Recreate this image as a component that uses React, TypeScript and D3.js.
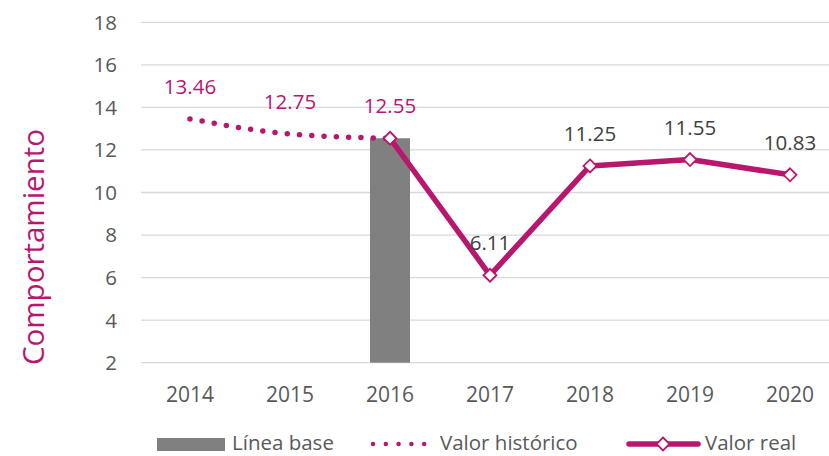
import React from "react";
import * as d3 from "d3";

const years = ["2014", "2015", "2016", "2017", "2018", "2019", "2020"];
const baseYears = ["2016"];
const baseValues = [12.55];
const histYears = ["2014", "2015", "2016"];
const histValues = [13.46, 12.75, 12.55];
const realYears = ["2016", "2017", "2018", "2019", "2020"];
const realValues = [12.55, 6.11, 11.25, 11.55, 10.83];
const yTicks = [2, 4, 6, 8, 10, 12, 14, 16, 18];

const W = 829;
const H = 456;
const MAG = "#B8176E";
const FONT = "'Open Sans', sans-serif";

export default function App() {
  const x = d3.scalePoint<string>().domain(years).range([190, 790]);
  const y = d3.scaleLinear().domain([2, 18]).range([362.7, 22.3]);

  const histLine = d3
    .line<number>()
    .x((_, i) => x(histYears[i]) as number)
    .y((d) => y(d))
    .curve(d3.curveMonotoneX);
  const realLine = d3
    .line<number>()
    .x((_, i) => x(realYears[i]) as number)
    .y((d) => y(d));

  const diamond = (cx: number, cy: number, r: number) =>
    `M${cx},${cy - r}L${cx + r},${cy}L${cx},${cy + r}L${cx - r},${cy}Z`;

  const barW = 40;
  const legY = 444;
  const legText = 449.5;

  return (
    <svg
      width={W}
      height={H}
      style={{ position: "absolute", left: 0, top: 0, background: "#fff" }}
      fontFamily={FONT}
    >
      {yTicks.map((t) => (
        <g key={t}>
          <line x1={141} x2={W} y1={y(t)} y2={y(t)} stroke="#D9D9D9" strokeWidth={1.3} />
          <text x={117} y={y(t)} dy="0.36em" textAnchor="end" fontSize={20.5} fill="#595959">
            {t}
          </text>
        </g>
      ))}
      {years.map((yr) => (
        <text key={yr} x={x(yr)} y={402} textAnchor="middle" fontSize={21} fill="#595959">
          {yr}
        </text>
      ))}
      <text
        transform={`translate(44,${247}) rotate(-90)`}
        textAnchor="middle"
        fontSize={29.5}
        fill={MAG}
      >
        Comportamiento
      </text>

      {baseValues.map((v, i) => (
        <rect
          key={i}
          x={(x(baseYears[i]) as number) - barW / 2}
          y={y(v)}
          width={barW}
          height={y(2) - y(v)}
          fill="#808080"
        />
      ))}

      <path
        d={histLine(histValues) || ""}
        fill="none"
        stroke={MAG}
        strokeWidth={5.5}
        strokeLinecap="round"
        strokeDasharray="0 12.3"
      />
      <path
        d={realLine(realValues) || ""}
        fill="none"
        stroke={MAG}
        strokeWidth={5.5}
        strokeLinejoin="round"
      />
      {realValues.map((v, i) => (
        <path
          key={i}
          d={diamond(x(realYears[i]) as number, y(v), 6.5)}
          fill="#fff"
          stroke={MAG}
          strokeWidth={1.8}
        />
      ))}

      {histValues.map((v, i) => (
        <text
          key={"h" + i}
          x={x(histYears[i])}
          y={y(v) - 25}
          textAnchor="middle"
          fontSize={20.5}
          fill={MAG}
        >
          {v.toFixed(2)}
        </text>
      ))}
      {realValues.slice(1).map((v, i) => (
        <text
          key={"r" + i}
          x={x(realYears[i + 1])}
          y={y(v) - 25}
          textAnchor="middle"
          fontSize={20.5}
          fill="#404040"
        >
          {v.toFixed(2)}
        </text>
      ))}

      {/* legend */}
      <rect x={157} y={legY - 6} width={68} height={13} fill="#808080" />
      <text x={232} y={legText} fontSize={20.5} fill="#595959">
        Línea base
      </text>
      <line
        x1={373}
        x2={437}
        y1={legY}
        y2={legY}
        stroke={MAG}
        strokeWidth={4.5}
        strokeLinecap="round"
        strokeDasharray="0 12.8"
      />
      <text x={440} y={legText} fontSize={20.5} fill="#595959">
        Valor histórico
      </text>
      <line
        x1={629}
        x2={698}
        y1={legY}
        y2={legY}
        stroke={MAG}
        strokeWidth={5.5}
        strokeLinecap="round"
      />
      <path d={diamond(663, legY, 6.5)} fill="#fff" stroke={MAG} strokeWidth={1.8} />
      <text x={705} y={legText} fontSize={20.5} fill="#595959">
        Valor real
      </text>
    </svg>
  );
}
